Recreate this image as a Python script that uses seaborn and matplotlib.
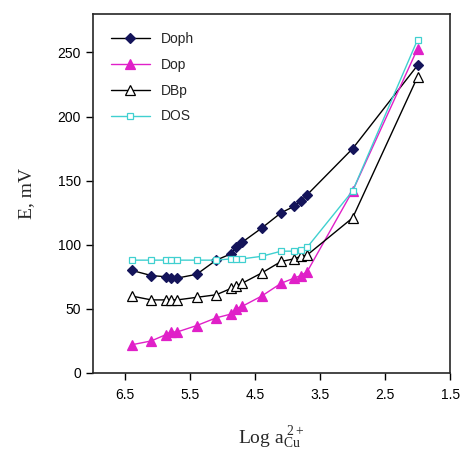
import numpy as np
import pandas as pd
import seaborn as sns
import matplotlib
matplotlib.use("Agg")
import matplotlib.pyplot as plt

# log a(Cu2+) values, same for all four electrodes
log_a = [6.4, 6.1, 5.87, 5.8, 5.7, 5.4, 5.1, 4.87, 4.8, 4.7, 4.4, 4.1, 3.9, 3.8, 3.7, 3.0, 2.0]

doph = [80, 76, 75, 74, 74, 77, 88, 93, 98, 102, 113, 125, 130, 134, 139, 175, 240]
dop = [22, 25, 30, 32, 32, 37, 43, 46, 50, 52, 60, 70, 74, 76, 79, 142, 253]
dbp = [60, 57, 57, 57, 57, 59, 61, 66, 68, 70, 78, 87, 89, 91, 92, 121, 231]
dos = [88, 88, 88, 88, 88, 88, 88, 89, 89, 89, 91, 95, 95, 96, 98, 142, 260]

series_names = ["Doph", "Dop", "DBp", "DOS"]

sns.set_style("ticks")
plt.rcParams["font.family"] = ["Liberation Sans", "DejaVu Sans"]
plt.rcParams["mathtext.fontset"] = "custom"
plt.rcParams["mathtext.rm"] = "Liberation Serif"
plt.rcParams["mathtext.it"] = "Liberation Serif:italic"

fig = plt.figure(figsize=(4.64, 4.51), dpi=100)
ax = fig.add_axes([0.2, 0.173, 0.77, 0.796])

styles = {
    "Doph": dict(color="black", marker="D", mfc="#14145a", mec="#14145a", ms=5.5),
    "Dop": dict(color="#e020c8", marker="^", mfc="#e020c8", mec="#e020c8", ms=6.5),
    "DBp": dict(color="black", marker="^", mfc="white", mec="black", ms=7),
    "DOS": dict(color="#40d0d0", marker="s", mfc="white", mec="#40d0d0", ms=5),
}

for name, vals in zip(series_names, [doph, dop, dbp, dos]):
    st = styles[name]
    sns.lineplot(
        x=log_a, y=vals, ax=ax, label=name,
        color=st["color"], marker=st["marker"],
        markerfacecolor=st["mfc"], markeredgecolor=st["mec"],
        markersize=st["ms"], linewidth=1, markeredgewidth=0.9,
        sort=False, estimator=None
    )

ax.set_xlim(7.0, 1.5)
ax.set_ylim(0, 280)
ax.set_xticks([6.5, 5.5, 4.5, 3.5, 2.5, 1.5])
ax.set_yticks([0, 50, 100, 150, 200, 250])
ax.tick_params(labelsize=10, length=5, width=1, colors="black")
ax.tick_params(axis="x", pad=6)
for sp in ax.spines.values():
    sp.set_linewidth(1.2)
    sp.set_visible(True)

ax.set_ylabel("E, mV", family="Liberation Serif", fontsize=14, labelpad=16)
ax.set_xlabel(r"Log a$_{\mathrm{Cu}}^{\ 2+}$", family="Liberation Serif", fontsize=14, labelpad=16)

leg = ax.legend(loc="upper left", frameon=False, fontsize=10, handlelength=2.8,
                labelspacing=0.85, borderaxespad=0.9)

fig.savefig("out.png", dpi=100)
